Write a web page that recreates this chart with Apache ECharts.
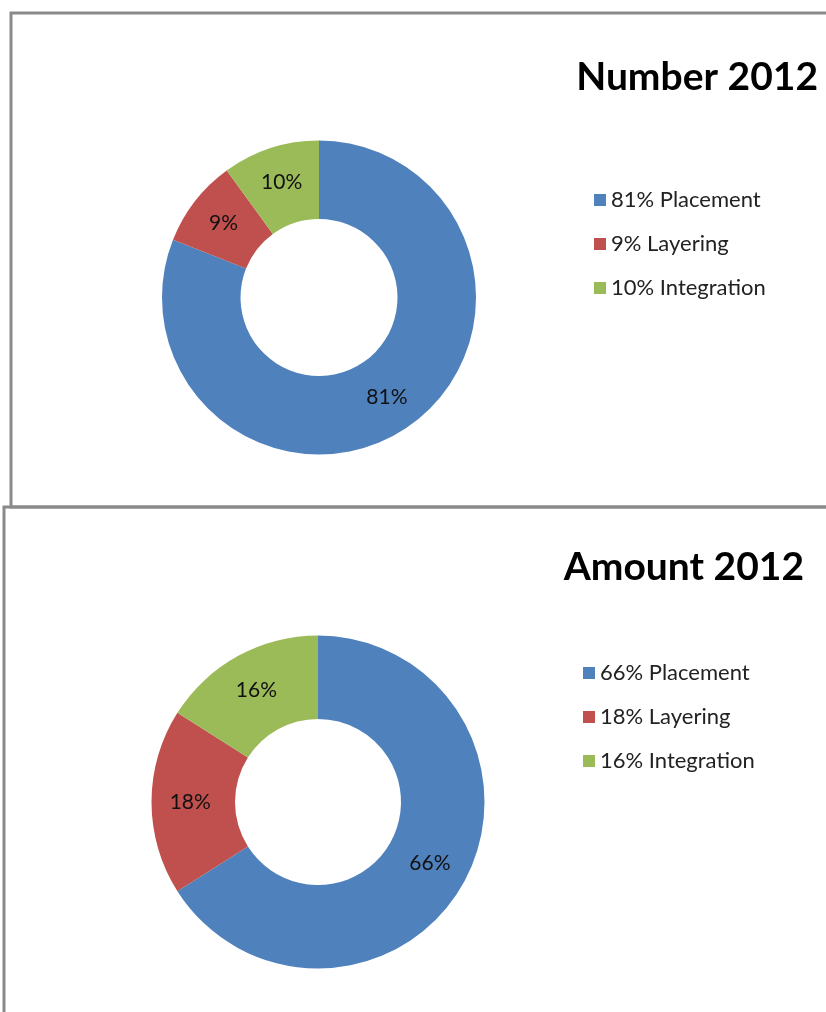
<!DOCTYPE html>
<html>
<head>
<meta charset="utf-8">
<script src="https://cdn.jsdelivr.net/npm/echarts@6/dist/echarts.min.js"></script>
<style>
	html, body { margin: 0; padding: 0; background: #fff; }
	#chart { width: 826px; height: 1012px; }
</style>
</head>
<body>
<div id="chart"></div>
<script>
const categories = ['Placement', 'Layering', 'Integration'];
const numberShares = [81, 9, 10];
const amountShares = [66, 18, 16];
const sliceColors = ['#4f81bd', '#c0504d', '#9bbb59'];

const font = 'Lato, "Open Sans", sans-serif';

const toData = (shares) =>
	shares.map((v, i) => ({
		name: v + '% ' + categories[i],
		value: v,
		itemStyle: { color: sliceColors[i] }
	}));

const numberData = toData(numberShares);
const amountData = toData(amountShares);

const pieSeries = (data, center, radius) => ({
	type: 'pie',
	center,
	radius,
	startAngle: 90,
	clockwise: true,
	avoidLabelOverlap: false,
	silent: true,
	animation: false,
	label: {
		show: true,
		position: 'inside',
		formatter: '{c}%',
		color: '#111',
		fontSize: 21,
		fontFamily: font
	},
	labelLine: { show: false },
	itemStyle: { borderWidth: 0 },
	emphasis: { disabled: true },
	data
});

const legendBase = {
	orient: 'vertical',
	icon: 'rect',
	itemWidth: 12,
	itemHeight: 12,
	itemGap: 22,
	selectedMode: false,
	textStyle: { fontSize: 22, fontFamily: font, color: '#222', lineHeight: 22 }
};

const chart = echarts.init(document.getElementById('chart'));
chart.setOption({
	backgroundColor: '#fff',
	animation: false,
	graphic: [
		{ type: 'rect', shape: { x: 11, y: 13, width: 830, height: 494 }, style: { fill: 'none', stroke: '#8a8a8a', lineWidth: 3 } },
		{ type: 'rect', shape: { x: 4, y: 507, width: 840, height: 520 }, style: { fill: 'none', stroke: '#8a8a8a', lineWidth: 3 } }
	],
	title: [
		{ text: 'Number 2012', right: 3, top: 53, textStyle: { fontSize: 39, fontWeight: 'bold', fontFamily: font, color: '#000' } },
		{ text: 'Amount 2012', right: 17, top: 543, textStyle: { fontSize: 39, fontWeight: 'bold', fontFamily: font, color: '#000' } }
	],
	legend: [
		Object.assign({}, legendBase, { left: 589, top: 184, data: numberData.map(d => d.name) }),
		Object.assign({}, legendBase, { left: 578, top: 657, data: amountData.map(d => d.name) })
	],
	series: [
		pieSeries(numberData, [319, 297.5], [78.5, 157]),
		pieSeries(amountData, [318, 802], [83, 166.5])
	]
});
</script>
</body>
</html>
